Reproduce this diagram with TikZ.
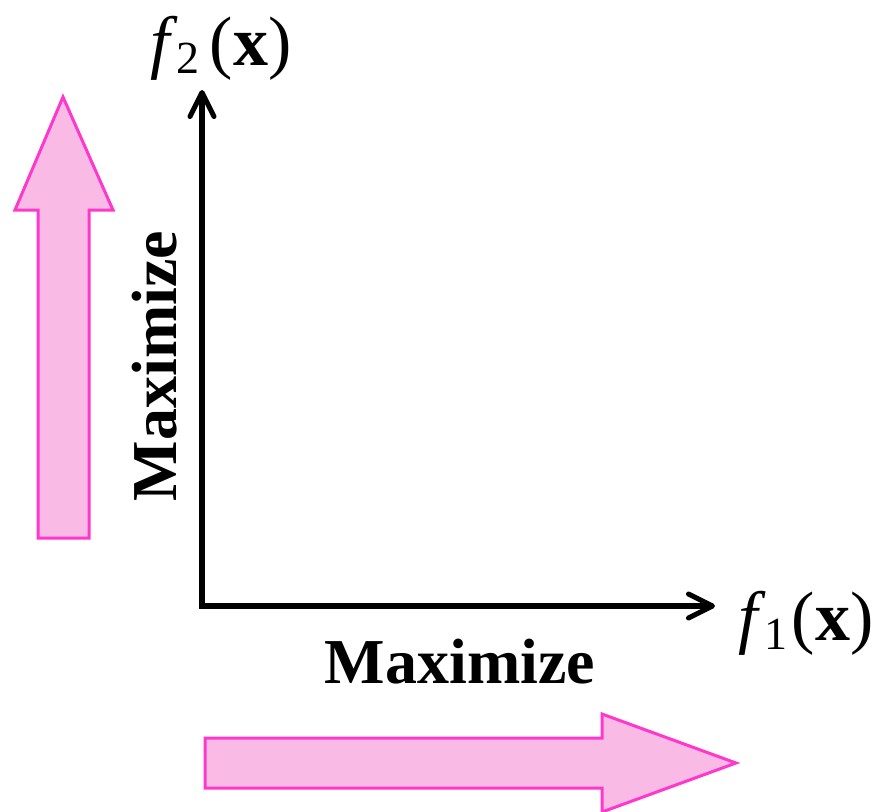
\documentclass[tikz,border=0pt]{standalone}
\usepackage{fontspec}
\setmainfont{Liberation Serif}
\usetikzlibrary{arrows.meta}
\definecolor{Pinkfill}{HTML}{F9BAE6}
\definecolor{Magenta}{HTML}{FF38CC}

\begin{document}
\begin{tikzpicture}[x=1pt,y=-1pt,every node/.style={font=\fontsize{70}{76}\selectfont,inner sep=0pt},
  bigarrow/.style={draw=Magenta,fill=Pinkfill,line width=3pt,line join=miter},
  barb/.tip={Straight Barb[length=24pt,width=24pt,line width=5pt,round]},
  axis/.style={line width=5.5pt,line join=miter,barb-barb}]
\useasboundingbox (0,0) rectangle (875,811);
% pink direction arrows
\draw[bigarrow] (38,538) -- (38,210) -- (15,210) -- (63,97) -- (113,210) -- (89,210) -- (89,538) -- cycle;
\draw[bigarrow] (205,738) -- (602,738) -- (602,714) -- (736,763) -- (602,812) -- (602,788) -- (205,788) -- cycle;
% axes
\coordinate (O) at (202,606);
\coordinate (xend) at (715,606);
\coordinate (yend) at (202,90);
\draw[axis] (yend) -- (O) -- (xend);
\node[anchor=base west] (f2lab) at (150,65) {\textit{f}\kern-1pt\raisebox{-8pt}{\fontsize{46}{48}\selectfont 2}\kern10pt(\textbf{x})};
\node[anchor=base west] (f1lab) at (738,640) {\textit{f}\kern-1pt\raisebox{-9pt}{\fontsize{46}{48}\selectfont 1}\kern4pt(\textbf{x})};
\node[anchor=base,font=\fontsize{64}{70}\selectfont\bfseries] (maxx) at (460,683) {Maximize};
\node[anchor=base,rotate=90,font=\fontsize{64}{70}\selectfont\bfseries] (maxy) at (176,366) {Maximize};
\end{tikzpicture}
\end{document}
